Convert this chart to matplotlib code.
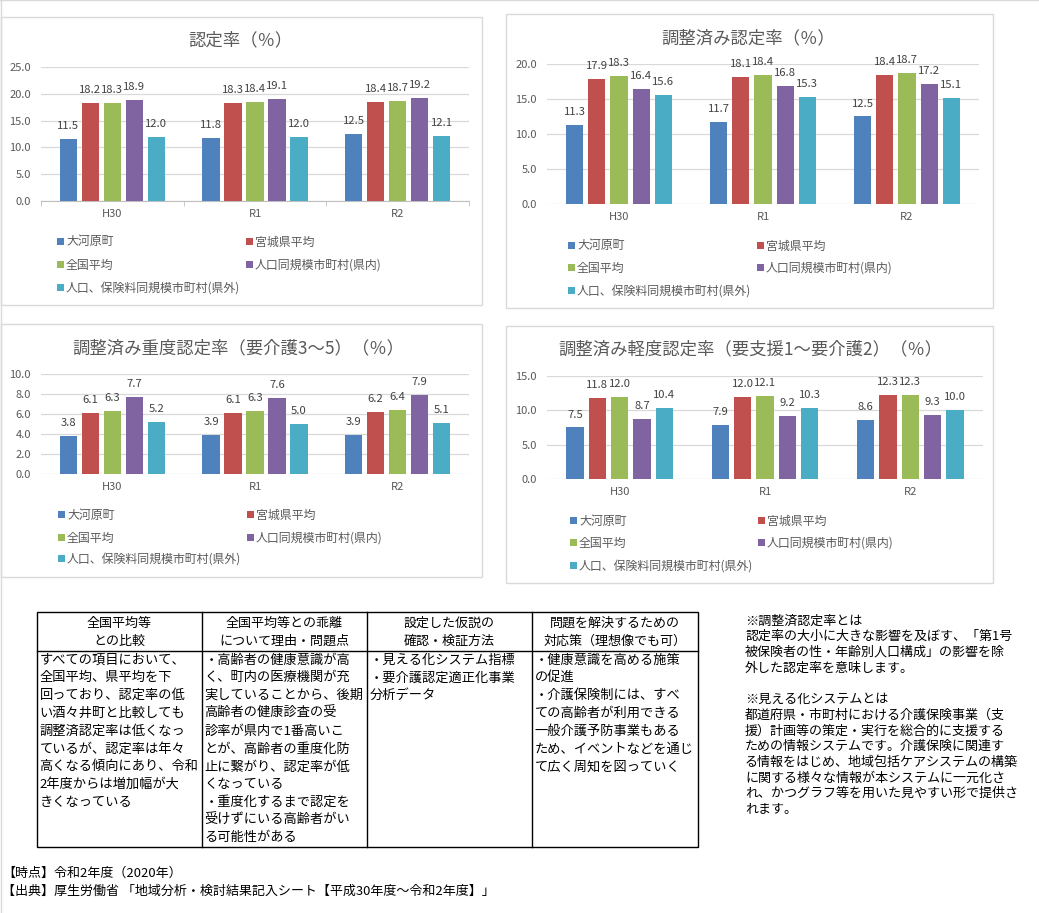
import matplotlib.pyplot as plt
from matplotlib.patches import Rectangle
import numpy as np

plt.rcParams['font.family'] = ['Noto Sans CJK JP', 'DejaVu Sans']

# %% data
years = ['H30', 'R1', 'R2']
series = ['大河原町', '宮城県平均', '全国平均', '人口同規模市町村(県内)', '人口、保険料同規模市町村(県外)']
colors = ['#4F81BD', '#C0504D', '#9BBB59', '#8064A2', '#4BACC6']

# rows = series, cols = years
nintei = [[11.5, 11.8, 12.5],
          [18.2, 18.3, 18.4],
          [18.3, 18.4, 18.7],
          [18.9, 19.1, 19.2],
          [12.0, 12.0, 12.1]]
chosei = [[11.3, 11.7, 12.5],
          [17.9, 18.1, 18.4],
          [18.3, 18.4, 18.7],
          [16.4, 16.8, 17.2],
          [15.6, 15.3, 15.1]]
judo = [[3.8, 3.9, 3.9],
        [6.1, 6.1, 6.2],
        [6.3, 6.3, 6.4],
        [7.7, 7.6, 7.9],
        [5.2, 5.0, 5.1]]
keido = [[7.5, 7.9, 8.6],
         [11.8, 12.0, 12.3],
         [12.0, 12.1, 12.3],
         [8.7, 9.2, 9.3],
         [10.4, 10.3, 10.0]]

titles = ['認定率（％）', '調整済み認定率（％）',
          '調整済み重度認定率（要介護3～5）（％）',
          '調整済み軽度認定率（要支援1～要介護2）（％）']

head_lines = [['全国平均等', 'との比較'],
              ['全国平均等との乖離', 'について理由・問題点'],
              ['設定した仮説の', '確認・検証方法'],
              ['問題を解決するための', '対応策（理想像でも可）']]
body_lines = [
    ['すべての項目において、', '全国平均、県平均を下', '回っており、認定率の低',
     'い酒々井町と比較しても', '調整済認定率は低くなっ', 'ているが、認定率は年々',
     '高くなる傾向にあり、令和', '2年度からは増加幅が大', 'きくなっている'],
    ['・高齢者の健康意識が高', 'く、町内の医療機関が充', '実していることから、後期',
     '高齢者の健康診査の受', '診率が県内で1番高いこ', 'とが、高齢者の重度化防',
     '止に繋がり、認定率が低', 'くなっている', '・重度化するまで認定を',
     '受けずにいる高齢者がい', 'る可能性がある'],
    ['・見える化システム指標', '・要介護認定適正化事業', '分析データ'],
    ['・健康意識を高める施策', 'の促進', '・介護保険制には、すべ',
     'ての高齢者が利用できる', '一般介護予防事業もある', 'ため、イベントなどを通じ',
     'て広く周知を図っていく'],
]
notes = ['※調整済認定率とは',
         '認定率の大小に大きな影響を及ぼす、「第1号',
         '被保険者の性・年齢別人口構成」の影響を除',
         '外した認定率を意味します。',
         '',
         '※見える化システムとは',
         '都道府県・市町村における介護保険事業（支',
         '援）計画等の策定・実行を総合的に支援する',
         'ための情報システムです。介護保険に関連す',
         'る情報をはじめ、地域包括ケアシステムの構築',
         'に関する様々な情報が本システムに一元化さ',
         'れ、かつグラフ等を用いた見やすい形で提供さ',
         'れます。']
footer = ['【時点】令和2年度（2020年）',
          '【出典】厚生労働省 「地域分析・検討結果記入シート【平成30年度～令和2年度】」']

# %% figure + pixel overlay
W, H = 1039, 913
fig = plt.figure(figsize=(W / 100, H / 100), dpi=100)
bg = fig.add_axes([0, 0, 1, 1], zorder=0)
bg.set_xlim(0, W)
bg.set_ylim(H, 0)
bg.axis('off')

gray = '#595959'
grid = '#D9D9D9'
PT = 72 / 100  # px -> pt

bg.plot([0, W], [0.5, 0.5], color=grid, lw=1)
bg.plot([0.5, 0.5], [0, H], color=grid, lw=1)


def chart(box, plot, vals, ymax, step, title, tpos, leg, ticks=False):
    bx0, by0, bx1, by1 = box
    bg.add_patch(Rectangle((bx0, by0), bx1 - bx0, by1 - by0, fill=False, ec=grid, lw=1))
    bg.text(tpos[0], tpos[1], title, ha='center', va='center', fontsize=12.5, color=gray)
    x0, y0, x1, y1 = plot
    ax = fig.add_axes([x0 / W, 1 - y1 / H, (x1 - x0) / W, (y1 - y0) / H], zorder=1)
    ax.set_facecolor('none')
    x = np.arange(len(years))
    w, d = 0.12, 0.154
    for i, v in enumerate(vals):
        xs = x + (i - 2) * d
        ax.bar(xs, v, w, color=colors[i], zorder=3)
        for xi, vi in zip(xs, v):
            ax.annotate(f'{vi:.1f}', (xi, vi), xytext=(0, 13 * PT), textcoords='offset points',
                        ha='center', va='center', fontsize=8.1, color='#404040')
    ax.set_xlim(-0.5, 2.5)
    ax.set_ylim(0, ymax)
    ax.set_yticks(np.arange(0, ymax + 0.01, step))
    ax.set_yticklabels([f'{t:.1f}' for t in np.arange(0, ymax + 0.01, step)])
    ax.set_xticks(x)
    ax.set_xticklabels(years)
    ax.yaxis.grid(True, color=grid, lw=0.9, zorder=0)
    for s in ax.spines.values():
        s.set_visible(False)
    ax.tick_params(axis='y', length=0, pad=10 * PT, labelsize=8, labelcolor=gray)
    ax.tick_params(axis='x', length=0, pad=8 * PT, labelsize=8, labelcolor=gray)
    if ticks:
        ax.spines['bottom'].set_visible(True)
        ax.spines['bottom'].set_color('#BFBFBF')
        ax.set_xticks([-0.5, 0.5, 1.5, 2.5], minor=True)
        ax.tick_params(axis='x', which='minor', length=5 * PT, color='#BFBFBF')
    # legend, 2 columns row-major
    cx, rows = leg
    for i, name in enumerate(series):
        lx = cx[i % 2]
        ly = rows[i // 2]
        bg.add_patch(Rectangle((lx, ly - 3.5), 7, 7, color=colors[i], lw=0))
        bg.text(lx + 9, ly, name, ha='left', va='center', fontsize=8.6, color=gray)
    return ax


chart((1, 17, 482, 305), (41, 67, 469, 201), nintei, 25, 5, titles[0], (240, 40),
      ((57, 246), (242, 265, 288)), ticks=True)
chart((506, 14, 993, 308), (547, 64, 979, 204), chosei, 20, 5, titles[1], (748, 38),
      ((568, 757), (246, 268, 291)))
chart((1, 324, 482, 577), (41, 374, 469, 474), judo, 10, 2, titles[2], (238, 348),
      ((58, 247), (515, 538, 559)))
chart((506, 326, 993, 583), (547, 376, 983, 479), keido, 15, 5, titles[3], (750, 349),
      ((570, 758), (521, 543, 566)))

# %% table
cols = [37, 202, 367, 532, 698]
top, hbot, bot = 612, 651, 847
bg.add_patch(Rectangle((cols[0], top), cols[-1] - cols[0], bot - top, fill=False, ec='black', lw=1))
for c in cols[1:-1]:
    bg.plot([c, c], [top, bot], color='black', lw=1)
bg.plot([cols[0], cols[-1]], [hbot, hbot], color='black', lw=1)
for j in range(4):
    xc = (cols[j] + cols[j + 1]) / 2
    for k, s in enumerate(head_lines[j]):
        bg.text(xc, 623 + 18 * k, s, ha='center', va='center', fontsize=9.4, color='black')
    for k, s in enumerate(body_lines[j]):
        bg.text(cols[j] + 2.5, 660 + 17.8 * k, s, ha='left', va='center', fontsize=9.5, color='black')

# %% notes + footer
for k, s in enumerate(notes):
    bg.text(745, 621 + 15.7 * k, s, ha='left', va='center', fontsize=9.4, color='black')
for k, s in enumerate(footer):
    bg.text(2, 873 + 18 * k, s, ha='left', va='center', fontsize=9.4, color='black')

fig.savefig('out.png', dpi=100)
